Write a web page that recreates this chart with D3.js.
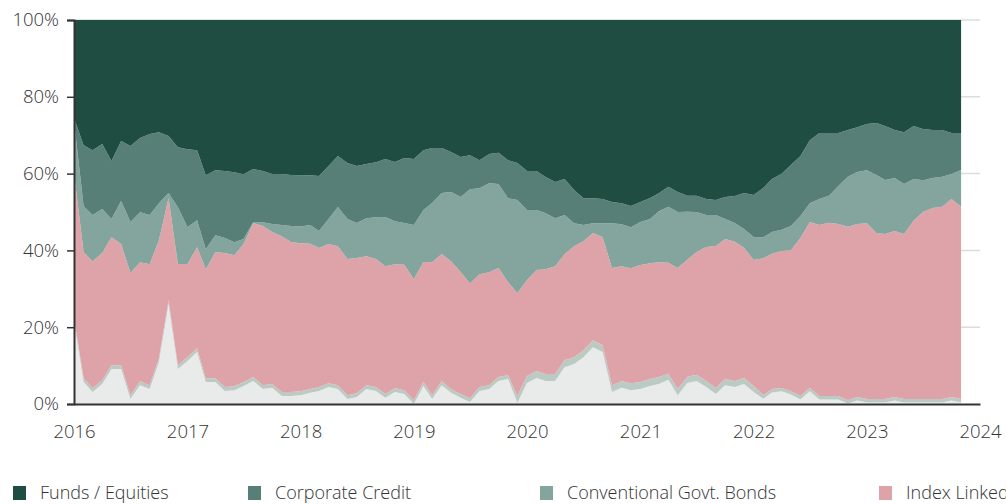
<!DOCTYPE html>
<html>
<head>
<meta charset="utf-8">
<script src="https://cdn.jsdelivr.net/npm/d3@7"></script>
<style>
  html, body { margin: 0; padding: 0; background: #fff; }
  svg { display: block; font-family: "Open Sans", sans-serif; font-weight: 300; }
</style>
</head>
<body>
<svg id="chart" width="1006" height="504"></svg>
<script>
// ---- Data (percent of total, monthly from Jan 2016) ----
const startMonth = "2016-01";
const fundsEquities = [25.5,32.6,33.9,32.3,36.7,31.5,32.8,30.7,29.7,29.2,30.2,33.1,33.6,33.9,40.4,39.1,39.3,39.6,40.1,38.8,39.3,40.1,40.1,40.4,40.4,40.4,40.6,38.0,35.4,37.2,38.0,37.5,37.0,36.2,37.0,35.9,36.2,33.9,33.3,33.3,34.4,35.7,35.2,36.5,34.9,34.6,36.5,37.2,39.3,39.3,40.9,42.2,41.4,44.3,46.4,46.4,46.6,47.4,47.7,48.4,47.4,46.4,45.1,43.5,44.8,45.8,45.8,46.6,46.9,46.1,45.8,45.1,45.6,43.8,41.4,40.1,37.8,35.4,31.3,29.4,29.4,29.4,28.6,27.9,27.1,26.8,27.6,28.6,29.2,27.6,28.4,28.6,28.6,29.4,29.4];
const corporateCredit = [0.8,15.9,16.9,16.9,15.1,15.6,19.8,19.3,21.1,18.5,14.8,15.6,20.3,18.2,19.3,16.9,17.4,18.2,16.9,13.8,13.3,13.0,13.3,13.3,13.3,13.0,14.3,13.8,13.3,14.6,14.8,14.1,14.3,15.1,15.4,16.9,17.2,15.6,14.3,11.7,10.4,10.4,8.9,7.3,7.6,8.1,9.9,9.6,10.2,10.2,9.4,9.4,9.4,8.6,7.0,6.5,6.3,5.5,5.5,5.5,5.2,5.5,4.7,5.2,5.2,4.2,4.2,4.2,3.9,5.7,7.0,9.4,10.9,12.8,13.8,14.6,15.9,15.6,16.4,17.2,16.4,13.8,12.2,11.7,12.0,13.5,14.1,12.5,13.5,13.8,13.3,12.5,12.2,10.7,9.6];
const conventionalGovtBonds = [13.5,12.0,12.0,11.5,4.7,11.2,13.3,13.0,12.8,9.6,1.3,14.8,9.6,7.0,5.2,4.4,3.9,3.4,1.3,0.3,1.0,2.1,2.9,4.2,4.4,4.9,4.4,6.5,10.2,10.4,9.1,9.9,10.9,12.8,11.2,10.9,14.1,13.5,15.4,15.9,18.0,19.5,24.5,22.4,23.2,21.9,21.9,24.2,18.2,15.6,14.6,12.5,10.2,6.0,4.2,2.6,3.6,11.7,10.9,10.7,11.2,11.5,13.3,14.6,14.6,12.5,10.4,8.3,8.1,5.2,4.9,4.9,6.0,5.5,5.7,5.5,6.3,5.7,4.9,6.8,7.0,9.9,13.0,13.5,13.8,15.1,14.1,13.8,13.0,10.9,8.3,7.8,7.8,6.5,9.6];
const indexLinked = [37.8,32.8,33.1,33.1,33.3,31.5,31.8,31.0,31.5,30.7,26.6,26.3,24.2,26.3,28.4,32.8,34.9,34.1,35.9,40.1,41.4,39.6,40.6,39.1,38.5,37.8,36.2,36.2,36.2,35.4,35.2,33.6,33.3,33.3,32.3,32.6,31.5,31.3,34.6,33.1,33.3,31.8,29.9,29.4,29.4,28.4,24.2,26.8,25.0,26.3,27.3,28.1,27.6,28.9,28.4,27.9,28.1,30.5,29.9,29.9,30.5,30.2,29.9,28.9,31.5,30.5,32.0,34.9,37.0,36.5,36.2,33.9,32.8,35.7,35.2,35.7,36.7,41.1,43.2,44.5,45.1,44.8,45.1,45.1,45.8,43.2,43.0,43.2,43.0,46.4,48.7,49.7,50.0,51.6,50.0];
const cash = [1.0,1.0,1.0,1.0,1.0,1.0,1.0,1.0,1.0,1.0,1.0,1.0,1.0,1.0,1.0,1.0,1.0,1.0,1.0,1.0,1.0,1.0,1.0,1.0,1.0,1.0,1.0,1.0,1.0,1.0,1.0,1.0,1.0,1.0,1.0,1.0,1.0,1.0,1.0,1.0,1.0,1.0,1.0,1.0,1.0,1.0,1.0,1.8,1.8,1.8,1.8,1.8,1.8,1.8,1.8,1.8,1.8,1.8,1.8,1.8,1.8,1.8,1.8,1.6,1.6,1.6,1.6,1.6,1.6,1.6,1.6,1.6,1.6,0.9,0.9,0.9,0.9,0.9,0.9,0.9,0.9,0.9,0.9,0.9,0.9,0.9,0.9,0.9,0.9,0.9,0.9,0.9,0.9,0.9,0.9];
const other = [21.4,5.7,3.1,5.2,9.1,9.1,1.3,4.9,3.9,10.9,26.0,9.1,11.2,13.5,5.7,5.7,3.4,3.6,4.7,6.0,3.9,4.2,2.1,2.1,2.3,2.9,3.4,4.4,3.9,1.3,1.8,3.9,3.4,1.6,3.1,2.6,0.0,4.7,1.3,4.9,2.9,1.6,0.5,3.4,3.9,6.0,6.5,0.3,5.5,6.8,6.0,6.0,9.6,10.4,12.2,14.8,13.5,3.1,4.2,3.6,3.9,4.7,5.2,6.3,2.3,5.5,6.0,4.4,2.6,4.9,4.4,5.2,3.1,1.4,3.0,3.3,2.5,1.2,3.3,1.2,1.2,1.2,0.1,0.9,0.4,0.4,0.4,0.9,0.4,0.4,0.4,0.4,0.4,0.9,0.4];

const yTicks = [0, 0.2, 0.4, 0.6, 0.8, 1];
const xTickYears = [2016, 2017, 2018, 2019, 2020, 2021, 2022, 2023, 2024];
const legendLabels = ["Funds / Equities", "Corporate Credit", "Conventional Govt. Bonds", "Index Linked"];

// ---- Build table ----
const start = d3.timeParse("%Y-%m")(startMonth);
const dates = fundsEquities.map((_, i) => d3.timeMonth.offset(start, i));
const keys = ["other", "cash", "index", "conv", "corp", "funds"];
const rows = dates.map((d, i) => ({
  date: d,
  other: other[i], cash: cash[i], index: indexLinked[i],
  conv: conventionalGovtBonds[i], corp: corporateCredit[i], funds: fundsEquities[i]
}));
const colors = {
  other: "#e8ebea", cash: "#bccac4", index: "#dea3a8",
  conv: "#84a59d", corp: "#577f78", funds: "#1f4d42"
};

const svg = d3.select("#chart");
const margin = { left: 74, right: 26 };
const W = 1006;
const x = d3.scaleTime()
  .domain([new Date(2016, 0, 1), new Date(2024, 0, 1)])
  .range([margin.left, W - margin.right]);
const y = d3.scaleLinear().domain([0, 1]).range([404, 20]);
const fontCss = "'Open Sans', sans-serif";

// gridlines
svg.append("g").selectAll("line").data(yTicks.filter(t => t > 0)).join("line")
  .attr("x1", margin.left).attr("x2", W - margin.right)
  .attr("y1", d => y(d)).attr("y2", d => y(d))
  .attr("stroke", "#dcdcdc").attr("stroke-width", 1.5);

const stack = d3.stack().keys(keys).offset(d3.stackOffsetExpand);
const series = stack(rows);
const area = d3.area()
  .x(d => x(d.data.date))
  .y0(d => y(d[0]))
  .y1(d => y(d[1]));

svg.append("g").selectAll("path").data(series).join("path")
  .attr("d", area)
  .attr("fill", d => colors[d.key]);

// y axis
const yAxis = d3.axisLeft(y).tickValues(yTicks).tickFormat(d3.format(".0%")).tickSize(7);
const gy = svg.append("g").attr("transform", `translate(${margin.left},0)`).call(yAxis);
gy.select(".domain").attr("stroke", "#333").attr("stroke-width", 2);
gy.selectAll(".tick line").attr("stroke", "#333").attr("stroke-width", 1.5);
gy.selectAll(".tick text").attr("x", -15).attr("fill", "#333")
  .style("font-size", "18.5px").style("font-family", fontCss).style("font-weight", 300);

// x axis
const xAxis = d3.axisBottom(x)
  .tickValues(xTickYears.map(yr => new Date(yr, 0, 1)))
  .tickFormat(d3.timeFormat("%Y")).tickSize(0);
const gx = svg.append("g").attr("transform", `translate(0,404)`).call(xAxis);
gx.select(".domain").attr("stroke", "#333").attr("stroke-width", 2);
gx.selectAll(".tick text").attr("dy", 0).attr("y", 34).attr("fill", "#333")
  .style("font-size", "18.5px").style("font-family", fontCss).style("font-weight", 300);

// legend
const legendX = [13, 248, 540, 879];
const legendColors = [colors.funds, colors.corp, colors.conv, colors.index];
const lg = svg.append("g").selectAll("g").data(legendLabels).join("g")
  .attr("transform", (d, i) => `translate(${legendX[i]},486)`);
lg.append("rect").attr("width", 13).attr("height", 14).attr("fill", (d, i) => legendColors[i]);
lg.append("text").attr("x", 27).attr("y", 12.5).text(d => d)
  .attr("fill", "#333").style("font-size", "18px");
</script>
</body>
</html>
